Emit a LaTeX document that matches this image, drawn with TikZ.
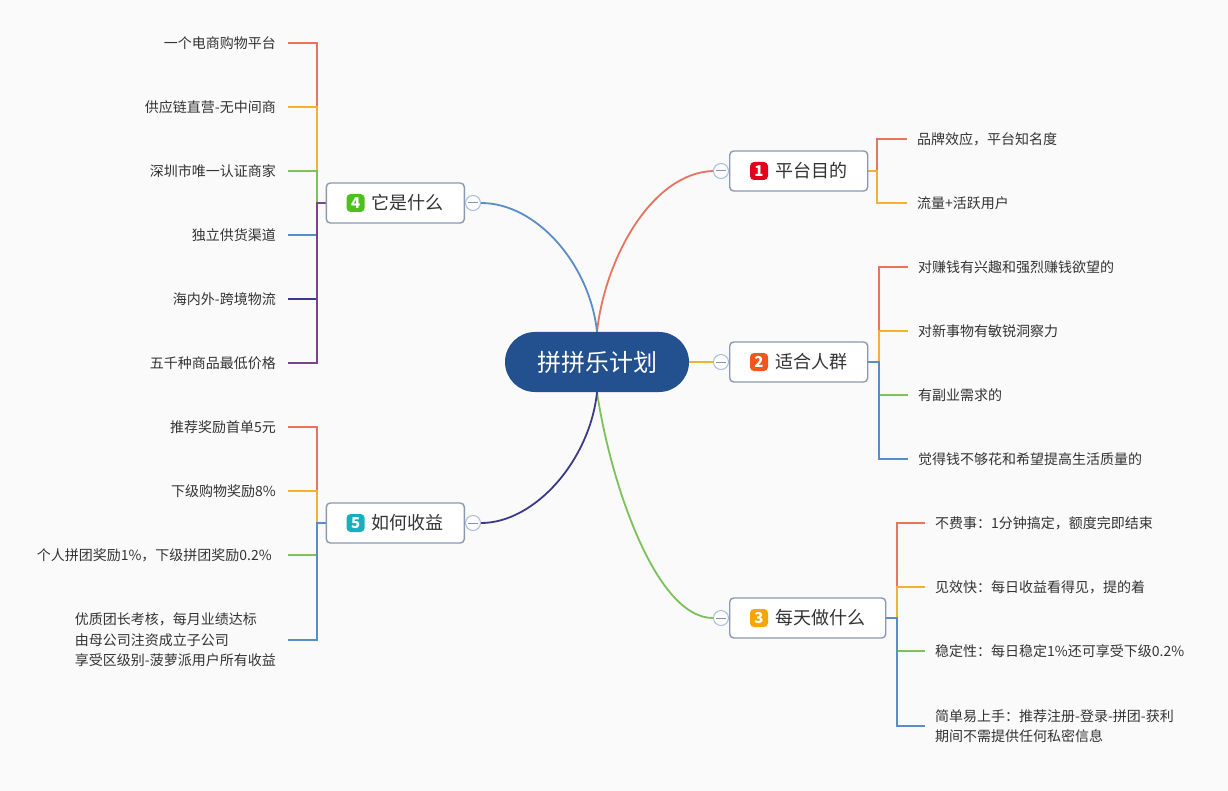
\documentclass[tikz,border=0pt]{standalone}
\usepackage{fontspec}
\setmainfont{Noto Sans CJK SC}
\definecolor{bgc}{HTML}{FAFAFA}
\definecolor{lred}{HTML}{E8735F}
\definecolor{lamber}{HTML}{F1B036}
\definecolor{lgreen}{HTML}{7CC15B}
\definecolor{lblue}{HTML}{5A8DC8}
\definecolor{lnavy}{HTML}{3D3A8B}
\definecolor{lpurple}{HTML}{7A4589}
\definecolor{boxc}{HTML}{8899B2}
\definecolor{cfill}{HTML}{23508F}
\definecolor{kc}{HTML}{A7BFD9}
\definecolor{kc2}{HTML}{7D95B3}
\definecolor{txt}{HTML}{333333}
\definecolor{bA}{HTML}{E3001B}
\definecolor{bB}{HTML}{F0561D}
\definecolor{bC}{HTML}{F7A600}
\definecolor{bD}{HTML}{4FC01B}
\definecolor{bE}{HTML}{17AEBD}
\pgfdeclarelayer{bg}
\pgfsetlayers{bg,main}
\begin{document}
\begin{tikzpicture}[x=1pt,y=-1pt,
  rootnode/.style={rounded corners=30pt,minimum width=184pt,minimum height=60pt,fill=cfill,text=white,inner sep=0pt,font=\fontsize{24}{28}\selectfont},
  topicbox/.style={draw=boxc,line width=1.4pt,fill=white,rounded corners=4pt,minimum height=40pt,inner xsep=20.5pt,inner ysep=0pt,text=txt,font=\fontsize{18}{22}\selectfont},
  badge/.style={rounded corners=4pt,minimum size=18pt,inner sep=0pt,text=white,font=\fontsize{15}{15}\selectfont\bfseries},
  kcirc/.style={circle,draw=kc,line width=1pt,fill=white,minimum size=15pt,inner sep=0pt,
    path picture={\draw[kc2,line width=1pt] ([xshift=-5pt]path picture bounding box.center) -- ([xshift=5pt]path picture bounding box.center);}},
  rchild/.style={anchor=west,inner xsep=10pt,inner ysep=2pt,align=left,text=txt,font=\fontsize{14}{20.5}\selectfont},
  lchild/.style={anchor=east,inner xsep=12pt,inner ysep=2pt,align=left,text=txt,font=\fontsize{14}{20.5}\selectfont},
  curve/.style={line width=1.8pt},
  br/.style={line width=1.6pt}
]
\useasboundingbox (0,0) rectangle (1228,791);
\begin{pgfonlayer}{bg}
\fill[bgc] (0,0) rectangle (1228,791);
\end{pgfonlayer}

% root
\node[rootnode] (c) at (597,362) {拼拼乐计划};

% topics
\node[topicbox,anchor=west] (t1) at (729,171) {\hspace*{25pt}平台目的};
\node[topicbox,anchor=west] (t2) at (729,362) {\hspace*{25pt}适合人群};
\node[topicbox,anchor=west] (t3) at (729,618) {\hspace*{25pt}每天做什么};
\node[topicbox,anchor=east] (t4) at (465,203) {\hspace*{25pt}它是什么};
\node[topicbox,anchor=east] (t5) at (465,523) {\hspace*{25pt}如何收益};

\node[badge,fill=bA] (n1) at ([xshift=30pt]t1.west) {1};
\node[badge,fill=bB] (n2) at ([xshift=30pt]t2.west) {2};
\node[badge,fill=bC] (n3) at ([xshift=30pt]t3.west) {3};
\node[badge,fill=bD] (n4) at ([xshift=30pt]t4.west) {4};
\node[badge,fill=bE] (n5) at ([xshift=30pt]t5.west) {5};

% collapse circles
\node[kcirc] (k1) at (721,171) {};
\node[kcirc] (k2) at (721,362) {};
\node[kcirc] (k3) at (721,618) {};
\node[kcirc] (k4) at (473,203) {};
\node[kcirc] (k5) at (473,523) {};

% bracket corners
\coordinate (b1) at (877,171);
\coordinate (b2) at (879,362);
\coordinate (b3) at (897,618);
\coordinate (b4) at (317,203);
\coordinate (b5) at (317,523);

% children topic 1
\node[rchild] (c11) at (907,139) {品牌效应，平台知名度};
\node[rchild] (c12) at (907,203) {流量+活跃用户};
% topic 2
\node[rchild] (c21) at (908,267) {对赚钱有兴趣和强烈赚钱欲望的};
\node[rchild] (c22) at (908,331) {对新事物有敏锐洞察力};
\node[rchild] (c23) at (908,395) {有副业需求的};
\node[rchild] (c24) at (908,459) {觉得钱不够花和希望提高生活质量的};
% topic 3
\node[rchild] (c31) at (925,523) {不费事：1分钟搞定，额度完即结束};
\node[rchild] (c32) at (925,587) {见效快：每日收益看得见，提的着};
\node[rchild] (c33) at (925,651) {稳定性：每日稳定1\%还可享受下级0.2\%};
\node[rchild] (c34) at (925,726) {简单易上手：推荐注册-登录-拼团-获利\\期间不需提供任何私密信息};
% topic 4
\node[lchild] (c41) at (288,43) {一个电商购物平台};
\node[lchild] (c42) at (288,107) {供应链直营-无中间商};
\node[lchild] (c43) at (288,171) {深圳市唯一认证商家};
\node[lchild] (c44) at (288,235) {独立供货渠道};
\node[lchild] (c45) at (288,299) {海内外-跨境物流};
\node[lchild] (c46) at (288,363) {五千种商品最低价格};
% topic 5
\node[lchild] (c51) at (288,427) {推荐奖励首单5元};
\node[lchild] (c52) at (288,491) {下级购物奖励8\%};
\node[lchild] (c53) at (288,555) {个人拼团奖励1\%，下级拼团奖励0.2\%\hspace*{4pt}};
\node[lchild] (c54) at (288,640) {优质团长考核，每月业绩达标\\由母公司注资成立子公司\\享受区级别-菠萝派用户所有收益};

\begin{pgfonlayer}{bg}
% main branches
\draw[curve,lred] (c.north) .. controls (605,258) and (652,173) .. (k1.west);
\draw[curve,lblue] (c.north) .. controls (590,265) and (537,203) .. (k4.east);
\draw[curve,lamber] (c.east) -- (k2.west);
\draw[curve,lgreen] (c.south) .. controls (610,480) and (655,618) .. (k3.west);
\draw[curve,lnavy] (c.south) .. controls (590,460) and (535,523) .. (k5.east);

% brackets topic 1
\draw[br,lred] (t1.east) -- (b1) |- (c11.west);
\draw[br,lamber] (t1.east) -- (b1) |- (c12.west);
% topic 2
\draw[br,lred] (t2.east) -- (b2) |- (c21.west);
\draw[br,lamber] (t2.east) -- (b2) |- (c22.west);
\draw[br,lgreen] (t2.east) -- (b2) |- (c23.west);
\draw[br,lblue] (t2.east) -- (b2) |- (c24.west);
% topic 3
\draw[br,lred] (t3.east) -- (b3) |- (c31.west);
\draw[br,lamber] (t3.east) -- (b3) |- (c32.west);
\draw[br,lgreen] (t3.east) -- (b3) |- (c33.west);
\draw[br,lblue] (t3.east) -- (b3) |- (c34.west);
% topic 4
\draw[br,lred] (t4.west) -- (b4) |- (c41.east);
\draw[br,lamber] (t4.west) -- (b4) |- (c42.east);
\draw[br,lgreen] (t4.west) -- (b4) |- (c43.east);
\draw[br,lblue] (t4.west) -- (b4) |- (c44.east);
\draw[br,lnavy] (t4.west) -- (b4) |- (c45.east);
\draw[br,lpurple] (t4.west) -- (b4) |- (c46.east);
% topic 5
\draw[br,lred] (t5.west) -- (b5) |- (c51.east);
\draw[br,lamber] (t5.west) -- (b5) |- (c52.east);
\draw[br,lgreen] (t5.west) -- (b5) |- (c53.east);
\draw[br,lblue] (t5.west) -- (b5) |- (c54.east);
\end{pgfonlayer}
\end{tikzpicture}
\end{document}
